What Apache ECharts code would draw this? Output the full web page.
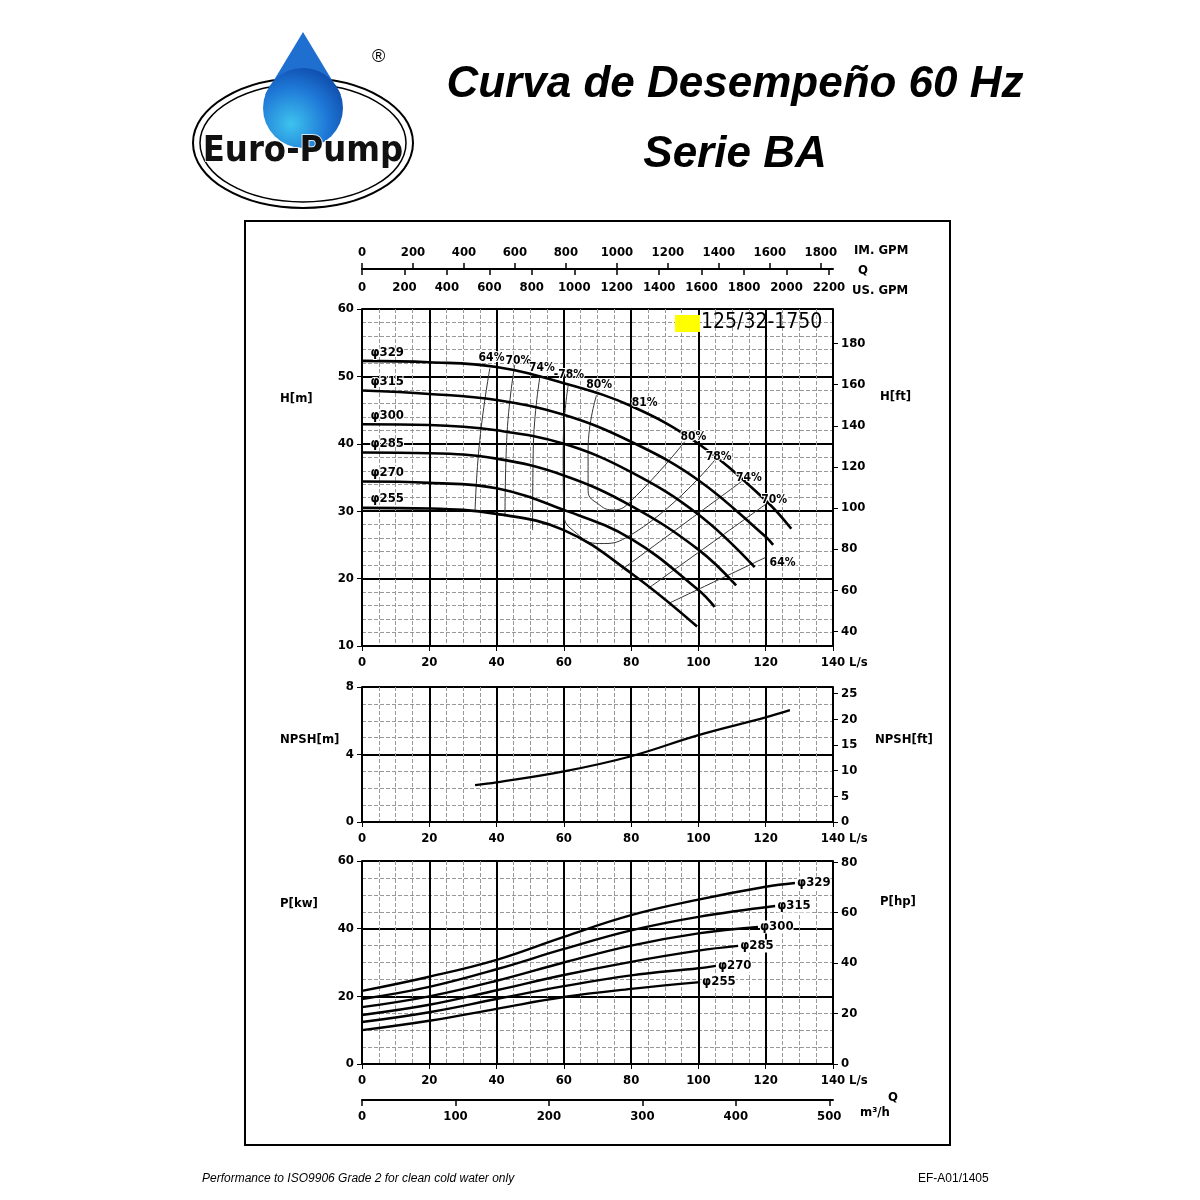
<!DOCTYPE html>
<html><head><meta charset="utf-8">
<script src="https://cdn.jsdelivr.net/npm/echarts@6/dist/echarts.min.js"></script>
<style>html,body{margin:0;padding:0;background:#fff}#c{width:1200px;height:1200px}</style>
</head><body><div id="c"></div>
<script>
// ---- Data (Q in L/s) ----
const diameters = ['φ329','φ315','φ300','φ285','φ270','φ255'];
const headQ = [
  [0,20,40,60,80,100,120,127.6],
  [0,20,40,60,80,100,120,122.2],
  [0,20,40,60,80,100,116.7],
  [0,20,40,60,80,100,111.2],
  [0,20,40,60,80,100,104.8],
  [0,20,40,60,80,99.6]
];
const headH = [
  [52.3,52.1,51.4,49.0,45.6,40.0,31.6,27.4],
  [47.9,47.4,46.5,44.3,40.3,34.6,26.2,25.0],
  [42.9,42.8,42.0,40.0,35.8,29.5,21.7],
  [38.7,38.6,37.8,35.3,30.8,24.3,19.0],
  [34.4,34.2,33.4,30.2,25.9,18.3,15.8],
  [30.5,30.4,29.6,27.2,20.8,12.9]
];
const effQ = [
  [38.0,35.0,33.6],
  [45.4,43.0,42.5],
  [52.9,50.9,50.7],
  [61.3,59.8,60.0,63.8,70.7,78.6,104.9],
  [69.7,67.2,67.2,70.7,74.7,80.1,95.9],
  [112.8,77.1],
  [120.2,85.5],
  [120.2,91.5]
];
const effH = [
  [51.2,40.5,30.0],
  [51.7,40.5,29.2],
  [50.0,39.1,27.2],
  [48.7,39.6,29.7,26.7,25.2,26.1,37.6],
  [47.2,39.1,33.1,30.9,30.2,31.6,40.3],
  [34.4,21.3],
  [31.1,18.7],
  [23.2,16.4]
];
const effLabelText = ['64%','70%','74%','-78%','80%','81%','80%','78%','74%','70%','64%'];
const effLabelQ = [38.5,46.5,53.5,61.5,70.5,84.0,98.5,106.0,115.0,122.5,125.0];
const effLabelH = [52.8,52.3,51.2,50.3,48.8,46.0,41.0,38.1,34.9,31.7,22.4];
const npshQ = [33.6,40,60,80,100,120,127.2];
const npshV = [2.19,2.35,3.0,3.9,5.15,6.2,6.63];
const powQ = [
  [0,20,40,60,80,100,120,128.7],
  [0,20,40,60,80,100,122.8],
  [0,20,40,60,80,100,117.7],
  [0,20,40,60,80,100,111.8],
  [0,20,40,60,80,100,105.2],
  [0,20,40,60,80,100.5]
];
const powP = [
  [21.6,25.8,30.8,37.6,44.0,48.6,52.4,53.5],
  [19.2,22.8,28.0,34.0,39.5,43.5,46.7],
  [16.8,20.0,24.6,30.0,35.0,38.6,40.5],
  [14.5,17.5,21.8,26.3,30.2,33.5,34.9],
  [12.4,15.3,19.2,23.0,26.2,28.3,29.0],
  [10.0,12.8,16.3,19.8,22.2,24.2]
];
const ftTicks = [40,60,80,100,120,140,160,180];
const npshFtTicks = [0,5,10,15,20,25];
const hpTicks = [0,20,40,60,80];
const imTicks = [0,200,400,600,800,1000,1200,1400,1600,1800];
const usTicks = [0,200,400,600,800,1000,1200,1400,1600,1800,2000,2200];
const m3hTicks = [0,100,200,300,400,500];

const FT=3.28084, HP=1.34102, US=15.8503, IM=13.1982, M3H=3.6;
const F='"Liberation Sans Narrow","DejaVu Sans Condensed",Arial,sans-serif';
const lbl={color:'#000',fontFamily:F,fontSize:13,fontWeight:'bold'};
const fmt=v=>String(Math.round(v));
const L=362,W=471;
const grids=[{left:L,top:309,width:W,height:337},{left:L,top:687,width:W,height:135},{left:L,top:861,width:W,height:203}];
function mainX(gi){return {type:'value',gridIndex:gi,min:0,max:140,interval:20,
  axisLine:{show:true,onZero:false,lineStyle:{color:'#000',width:2}},axisTick:{show:true,length:5,lineStyle:{color:'#000'}},
  axisLabel:{...lbl,margin:10},name:'L/s',nameGap:14,nameTextStyle:{...lbl,verticalAlign:'top',padding:[10,0,0,0]},
  splitLine:{show:true,lineStyle:{color:'#000',width:2}},
  minorTick:{show:false,splitNumber:4},minorSplitLine:{show:true,lineStyle:{color:'#999',type:'dashed',width:1}}};}
function mainY(gi,min,max,interval,minorN){return {type:'value',gridIndex:gi,min:min,max:max,interval:interval,
  axisLine:{show:true,onZero:false,lineStyle:{color:'#000',width:2}},axisTick:{show:true,length:5,lineStyle:{color:'#000'}},
  axisLabel:{...lbl,margin:8},splitLine:{show:true,lineStyle:{color:'#000',width:2}},
  minorTick:{show:false,splitNumber:minorN},minorSplitLine:{show:true,lineStyle:{color:'#999',type:'dashed',width:1}}};}
function secY(gi,min,max,ticks){return {type:'value',gridIndex:gi,position:'right',min:min,max:max,
  axisLine:{show:true,onZero:false,lineStyle:{color:'#000',width:2}},
  axisTick:{show:true,length:5,customValues:ticks,lineStyle:{color:'#000'}},
  axisLabel:{...lbl,margin:8,customValues:ticks,formatter:fmt},splitLine:{show:false}};}

const xAxis=[mainX(0),mainX(1),mainX(2),
  {type:'value',gridIndex:0,position:'top',offset:40,min:0,max:140*IM,
   axisLine:{show:true,onZero:false,lineStyle:{color:'#000',width:2}},
   axisTick:{show:true,length:6,customValues:imTicks,lineStyle:{color:'#000',width:1.5}},
   axisLabel:{...lbl,margin:10,customValues:imTicks,formatter:fmt},splitLine:{show:false}},
  {type:'value',gridIndex:0,position:'top',offset:40,min:0,max:140*US,
   axisLine:{show:false,onZero:false},
   axisTick:{show:true,inside:true,length:6,customValues:usTicks,lineStyle:{color:'#000',width:1.5}},
   axisLabel:{...lbl,inside:true,margin:12,customValues:usTicks,formatter:fmt},splitLine:{show:false}},
  {type:'value',gridIndex:2,position:'bottom',offset:36,min:0,max:140*M3H,
   axisLine:{show:true,onZero:false,lineStyle:{color:'#000',width:2}},
   axisTick:{show:true,length:6,customValues:m3hTicks,lineStyle:{color:'#000',width:1.5}},
   axisLabel:{...lbl,margin:10,customValues:m3hTicks,formatter:fmt},splitLine:{show:false}}
];
const yAxis=[mainY(0,10,60,10,5),mainY(1,0,8,4,4),mainY(2,0,60,20,4),
  secY(0,10*FT,60*FT,ftTicks),secY(1,0,8*FT,npshFtTicks),secY(2,0,60*HP,hpTicks)];

const series=[];
const z=(a,b)=>a.map((v,i)=>[v,b[i]]);
headQ.forEach((q,i)=>series.push({type:'line',xAxisIndex:0,yAxisIndex:0,smooth:0.4,symbol:'none',
  data:z(q,headH[i]),lineStyle:{color:'#000',width:2.6},z:5}));
effQ.forEach((q,i)=>series.push({type:'line',xAxisIndex:0,yAxisIndex:0,smooth:0.5,symbol:'none',
  data:z(q,effH[i]),lineStyle:{color:'#333',width:1},z:4}));
const txtLbl=(t,size)=>({show:true,formatter:t,...lbl,fontSize:size,position:'inside',color:'#000',opacity:1,textBorderColor:'#fff',textBorderWidth:2});
series.push({type:'scatter',xAxisIndex:0,yAxisIndex:0,symbolSize:1,silent:true,itemStyle:{color:'#fff',opacity:1},z:7,
  data:effLabelQ.map((q,i)=>({value:[q,effLabelH[i]],label:txtLbl(effLabelText[i],12)}))});
series.push({type:'scatter',xAxisIndex:0,yAxisIndex:0,symbolSize:1,silent:true,itemStyle:{color:'#fff',opacity:1},z:7,
  data:diameters.map((d,i)=>({value:[7.5,headH[i][0]+1.3],label:txtLbl(d,13)}))});
series.push({type:'line',xAxisIndex:1,yAxisIndex:1,smooth:0.4,symbol:'none',data:z(npshQ,npshV),lineStyle:{color:'#000',width:2.2},z:5});
powQ.forEach((q,i)=>series.push({type:'line',xAxisIndex:2,yAxisIndex:2,smooth:0.4,symbol:'none',
  data:z(q,powP[i]),lineStyle:{color:'#000',width:2.4},z:5,
  endLabel:{show:true,formatter:diameters[i],...lbl,distance:2,backgroundColor:'#fff'}}));

const gtext=(x,y,t,font)=>({type:'text',x:x,y:y,style:{text:t,font:font||('bold 13px '+F),fill:'#000'},z:20});
const drop=new echarts.graphic.RadialGradient(0.35,0.7,0.8,[{offset:0,color:'#3ec3ee'},{offset:0.55,color:'#1f7ad8'},{offset:1,color:'#0d47a8'}]);
const graphic=[
  {type:'rect',shape:{x:245,y:221,width:705,height:924},style:{fill:'none',stroke:'#000',lineWidth:2},z:0},
  {type:'rect',shape:{x:675,y:315,width:25,height:17},style:{fill:'#ffff00'},z:20},
  gtext(701,312,'125/32-1750','21px "DejaVu Sans Condensed",sans-serif'),
  gtext(280,392,'H[m]'),gtext(880,390,'H[ft]'),
  gtext(280,733,'NPSH[m]'),gtext(875,733,'NPSH[ft]'),
  gtext(280,897,'P[kw]'),gtext(880,895,'P[hp]'),
  gtext(854,244,'IM. GPM'),gtext(858,264,'Q'),gtext(852,284,'US. GPM'),
  gtext(888,1091,'Q'),gtext(860,1106,'m³/h'),
  {type:'text',x:735,y:85,style:{text:'Curva de Desempeño 60 Hz',font:'italic bold 44px "Liberation Sans Narrow",sans-serif',fill:'#000',align:'center',verticalAlign:'middle'}},
  {type:'text',x:735,y:155,style:{text:'Serie BA',font:'italic bold 44px "Liberation Sans Narrow",sans-serif',fill:'#000',align:'center',verticalAlign:'middle'}},
  {type:'text',x:202,y:1173,style:{text:'Performance to ISO9906 Grade 2 for clean cold water only',font:'italic 12px Arial,sans-serif',fill:'#000'}},
  {type:'text',x:918,y:1173,style:{text:'EF-A01/1405',font:'12px Arial,sans-serif',fill:'#000'}},
  {type:'ellipse',shape:{cx:303,cy:143,rx:110,ry:65},style:{fill:'#fff',stroke:'#000',lineWidth:2},z:1},
  {type:'ellipse',shape:{cx:303,cy:143,rx:103,ry:59},style:{fill:'none',stroke:'#000',lineWidth:1.5},z:2},
  {type:'polygon',shape:{points:[[303,32],[265,95],[341,95]]},style:{fill:'#1f6fd0'},z:3},
  {type:'circle',shape:{cx:303,cy:108,r:40},style:{fill:drop},z:3},
  {type:'text',x:303,y:152,style:{text:'Euro-Pump',font:'bold 36px "DejaVu Sans Condensed",sans-serif',fill:'#111',align:'center',verticalAlign:'middle',stroke:'#fff',lineWidth:1.5},z:4},
  {type:'text',x:372,y:48,style:{text:'®',font:'18px Arial,sans-serif',fill:'#000'},z:4}
];
const chart=echarts.init(document.getElementById('c'));
chart.setOption({animation:false,grid:grids,xAxis:xAxis,yAxis:yAxis,series:series,graphic:graphic});
</script></body></html>
